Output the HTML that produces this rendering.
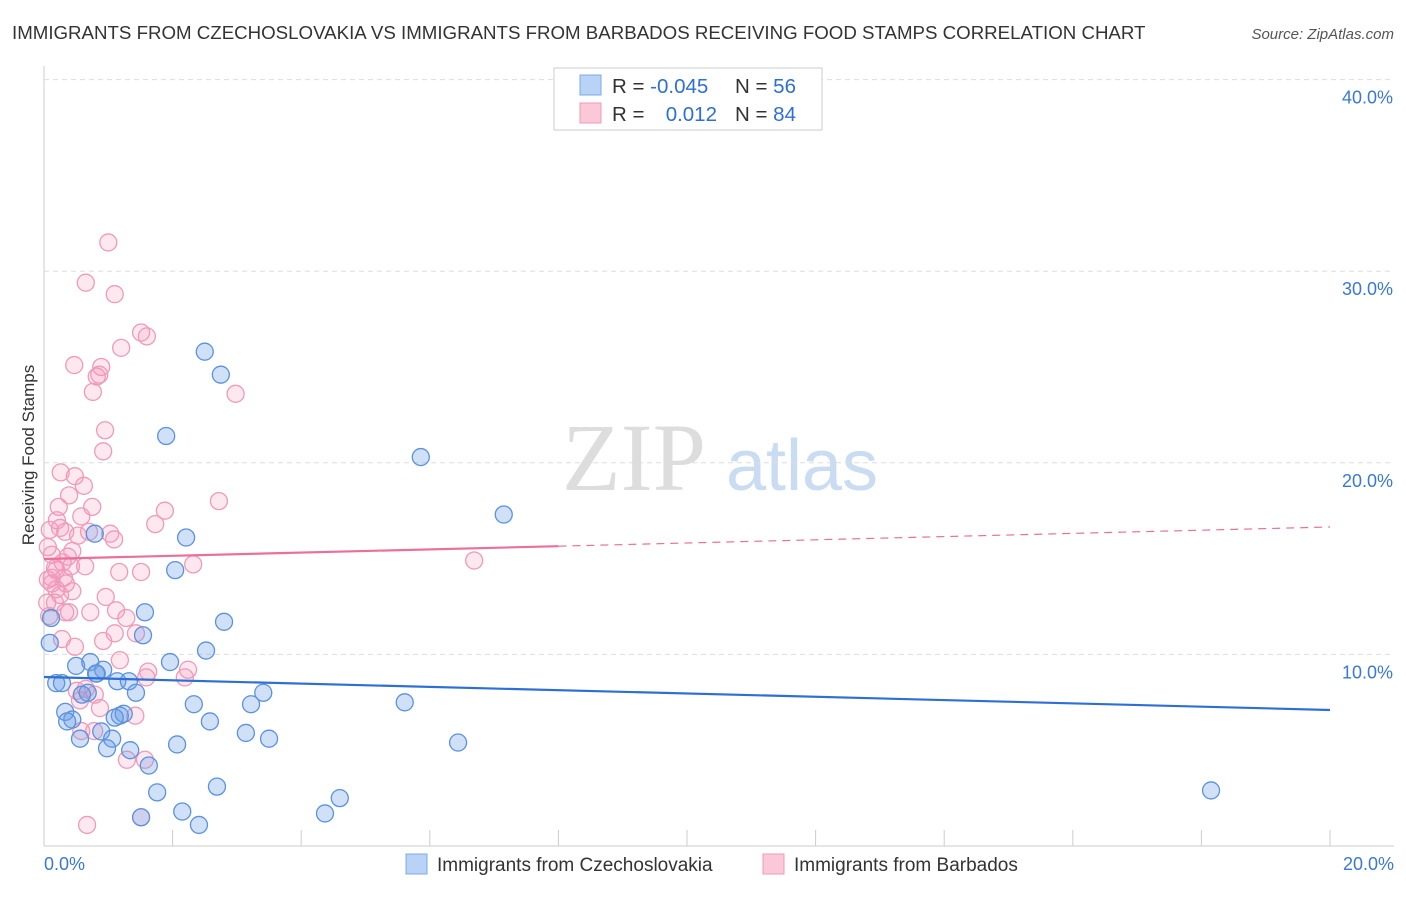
<!DOCTYPE html>
<html><head><meta charset="utf-8"><style>
body{margin:0;background:#fff;font-family:"Liberation Sans",sans-serif;}
svg text{font-family:"Liberation Sans",sans-serif;}
</style></head><body>
<svg id="chart" width="1406" height="892" xmlns="http://www.w3.org/2000/svg">
<text x="12" y="39" font-size="18.7" fill="#333">IMMIGRANTS FROM CZECHOSLOVAKIA VS IMMIGRANTS FROM BARBADOS RECEIVING FOOD STAMPS CORRELATION CHART</text>
<text x="1394" y="39" font-size="15" fill="#555" font-style="italic" text-anchor="end">Source: ZipAtlas.com</text>
<text transform="translate(34,455) rotate(-90)" font-size="17" fill="#333" text-anchor="middle">Receiving Food Stamps</text>
<g>
<text x="634" y="490" font-size="96" fill="#ddd" font-family="Liberation Serif" text-anchor="middle" style="font-family:'Liberation Serif',serif">ZIP</text>
<text x="802" y="490" font-size="72" fill="#c9dcf2" text-anchor="middle">atlas</text>
</g>
<g id="grid"></g><g id="marks"></g>
<g>
<rect x="554" y="68" width="268" height="62" fill="#fff" stroke="#ccc"/>
<rect x="580" y="75" width="21" height="20" fill="#b8d3f5" stroke="#7ea9e6"/>
<rect x="580" y="103" width="21" height="20" fill="#fbc8d8" stroke="#f09ab8"/>
<text x="612" y="93" font-size="20.5" fill="#333">R = <tspan fill="#2d6fd6">-0.045</tspan></text>
<text x="735" y="93" font-size="20.5" fill="#333">N = <tspan fill="#2d6fd6">56</tspan></text>
<text x="612" y="121" font-size="20.5" fill="#333">R = </text>
<text x="717" y="121" font-size="20.5" fill="#2d6fd6" text-anchor="end">0.012</text>
<text x="735" y="121" font-size="20.5" fill="#333">N = <tspan fill="#2d6fd6">84</tspan></text>
</g>
<g>
<rect x="406" y="854" width="21" height="20" fill="#b8d3f5" stroke="#7ea9e6"/>
<text x="437" y="871" font-size="19" fill="#333">Immigrants from Czechoslovakia</text>
<rect x="763" y="854" width="21" height="20" fill="#fbc8d8" stroke="#f09ab8"/>
<text x="794" y="871" font-size="19" fill="#333">Immigrants from Barbados</text>
</g>
</svg>
<script>
const yTicks=[10,20,30,40];
const yTickLabels=["10.0%","20.0%","30.0%","40.0%"];
const xTickLabels=["0.0%","20.0%"];
const blueX=[2.5,2.75,1.9,5.86,7.15,2.21,0.79,2.04,1.57,2.8,1.54,0.11,0.09,2.52,1.96,0.5,0.72,0.92,0.82,0.19,0.28,1.14,1.32,1.43,0.68,0.59,3.41,2.33,3.22,5.61,0.33,1.18,1.24,0.44,2.58,1.1,0.89,0.56,1.06,3.14,3.5,2.07,6.44,0.98,1.34,1.63,1.76,2.69,4.6,2.15,4.37,1.51,2.41,18.15,0.36,0.81];
const blueY=[25.8,24.6,21.4,20.3,17.3,16.1,16.3,14.4,12.2,11.7,11.0,11.9,10.6,10.2,9.6,9.4,9.6,9.2,9.0,8.5,8.5,8.6,8.6,8.0,8.0,7.9,8.0,7.4,7.4,7.5,7.0,6.8,6.9,6.6,6.5,6.7,5.98,5.6,5.6,5.9,5.6,5.3,5.4,5.1,5.0,4.2,2.8,3.1,2.5,1.8,1.7,1.5,1.1,2.9,6.5,9.0];
const pinkX=[1.0,0.65,1.1,1.51,1.6,1.2,0.47,0.89,0.86,0.82,0.76,2.98,0.95,0.92,0.26,0.48,0.62,0.39,2.72,0.23,0.75,1.88,0.58,0.2,0.25,1.73,0.33,0.7,1.03,0.53,1.09,0.06,0.44,0.12,0.29,0.42,0.64,2.32,6.69,0.19,1.17,1.51,0.06,0.31,0.12,0.34,0.19,0.44,0.25,0.96,0.05,0.39,0.33,1.12,1.28,1.1,1.43,0.28,0.92,0.48,1.18,1.62,2.24,1.59,2.19,0.65,0.51,0.79,0.87,1.42,0.58,0.78,1.29,1.57,1.51,0.67,0.08,0.17,0.12,0.17,0.37,0.09,0.72,0.56];
const pinkY=[31.5,29.4,28.8,26.8,26.6,26.0,25.1,25.0,24.6,24.5,23.7,23.6,21.7,20.6,19.5,19.3,18.8,18.3,18.0,17.7,17.7,17.5,17.2,17.0,16.6,16.8,16.4,16.4,16.3,16.2,16.0,15.6,15.4,15.2,14.8,14.6,14.6,14.7,14.9,14.4,14.3,14.3,13.9,14.0,13.7,13.7,13.4,13.3,13.1,13.0,12.7,12.2,12.2,12.3,11.9,11.1,11.1,10.8,10.7,10.4,9.7,9.1,9.2,8.8,8.8,8.2,8.1,7.9,7.2,6.8,6.0,6.0,4.5,4.5,1.5,1.1,12.0,12.7,14.0,14.5,15.1,16.5,12.2,7.6];
const blueTrend=[8.82,7.10];
const pinkTrend=[14.98,16.65];
const X0=44,X1=1330,Y0=846,PX=19.16;
const sx=v=>X0+(v/20)*(X1-X0);
const sy=v=>Y0-v*PX;
const NS="http://www.w3.org/2000/svg";
const grid=document.getElementById('grid'),marks=document.getElementById('marks');
function mk(tag,attrs,parent){const e=document.createElementNS(NS,tag);for(const k in attrs)e.setAttribute(k,attrs[k]);parent.appendChild(e);return e;}
const ax=mk('line',{x1:X0,y1:66,x2:X0,y2:Y0,stroke:'#ccc'},grid);


const bx=mk('line',{x1:X0,y1:Y0,x2:1394,y2:Y0,stroke:'#ccc'},grid);


yTicks.forEach((t,i)=>{
 const g=mk('line',{x1:X0,y1:sy(t),x2:1394,y2:sy(t),stroke:'#ddd','stroke-dasharray':'5,4'},grid);
 
 
 const l=mk('text',{x:1393,y:sy(t)+24,'font-size':18,fill:'#3a78d4','text-anchor':'end'},grid);
 l.textContent=yTickLabels[i];
 
 
});
for(let i=0;i<=10;i++){
 const t=mk('line',{x1:sx(i*2),y1:Y0-16,x2:sx(i*2),y2:Y0,stroke:'#ccc'},grid);
 
 
}
[[0,'start',44],[1,'end',1394]].forEach(([i,a,x])=>{
 const l=mk('text',{x:x,y:870,'font-size':18,fill:'#3a78d4','text-anchor':a},grid);
 l.textContent=xTickLabels[i];
 
 
});
pinkX.forEach((v,i)=>{
 const c=mk('circle',{cx:sx(v),cy:sy(pinkY[i]),r:8.5,fill:'rgba(244,150,185,0.22)',stroke:'#f09ab8','stroke-width':1.3},marks);
 
 
});
blueX.forEach((v,i)=>{
 const c=mk('circle',{cx:sx(v),cy:sy(blueY[i]),r:8.5,fill:'rgba(110,160,230,0.32)',stroke:'#5b92dc','stroke-width':1.3},marks);
 
 
});
const bl=mk('line',{x1:sx(0),y1:sy(blueTrend[0]),x2:sx(20),y2:sy(blueTrend[1]),stroke:'#2d6fd6','stroke-width':2.2},marks);


const pm=pinkTrend[0]+(pinkTrend[1]-pinkTrend[0])*0.4;
const pl=mk('line',{x1:sx(0),y1:sy(pinkTrend[0]),x2:sx(8),y2:sy(pm),stroke:'#ec6f9a','stroke-width':2.2},marks);


const pd=mk('line',{x1:sx(8),y1:sy(pm),x2:sx(20),y2:sy(pinkTrend[1]),stroke:'#ec6f9a','stroke-width':1.2,'stroke-dasharray':'8,6'},marks);


</script>
</body></html>
